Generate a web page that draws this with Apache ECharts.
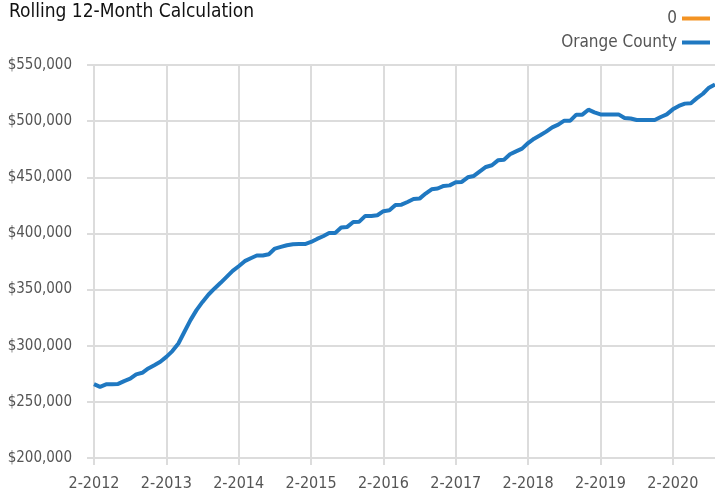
<!DOCTYPE html>
<html>
<head>
<meta charset="utf-8">
<script src="https://cdn.jsdelivr.net/npm/echarts@6/dist/echarts.min.js"></script>
<style>
  html, body { margin: 0; padding: 0; background: #fff; }
  #chart { width: 715px; height: 493px; }
</style>
</head>
<body>
<div id="chart"></div>
<script>
// months 2-2012 .. 9-2020
const months = [];
for (let y = 2012; y <= 2020; y++) {
  for (let m = 1; m <= 12; m++) {
    if (y === 2012 && m < 2) continue;
    if (y === 2020 && m > 9) continue;
    months.push(m + "-" + y);
  }
}

// rolling 12-month value, Orange County (thousands of $)
const orangeCounty = [
  265.8, 263.4, 265.6, 265.6, 266.0, 268.5, 270.6, 274.5, 275.9, 279.8, 282.7, 285.7,
  290.1, 295.2, 302.0, 312.4, 322.8, 331.7, 339.0, 345.6, 351.0, 356.0, 361.3, 366.6,
  370.8, 375.3, 377.9, 380.3, 380.3, 381.5, 386.5, 388.0, 389.5, 390.4, 390.5, 390.5,
  392.4, 395.1, 397.5, 400.4, 400.4, 405.2, 405.8, 410.2, 410.5, 415.6, 415.6, 416.2,
  419.8, 420.6, 425.4, 425.6, 428.0, 430.7, 431.0, 435.5, 439.3, 440.0, 442.3, 442.8,
  445.6, 445.9, 450.0, 451.2, 455.3, 459.2, 460.7, 465.1, 465.7, 470.5, 473.1, 475.5,
  480.5, 484.4, 487.4, 490.7, 494.5, 496.9, 500.4, 500.4, 505.8, 505.8, 510.2, 507.8,
  506.0, 506.0, 506.0, 506.0, 502.8, 502.3, 501.0, 501.0, 501.0, 501.0, 503.7, 506.0,
  510.5, 513.5, 515.6, 516.0, 520.5, 524.4, 529.8, 532.7
];
const zeroSeries = [];

const gridColor = "#dcdcdc";
const textColor = "#555";
const font = "'Liberation Sans Narrow', 'DejaVu Sans Condensed', Roboto, sans-serif";

const chart = echarts.init(document.getElementById("chart"));
chart.setOption({
  backgroundColor: "#fff",
  animation: false,
  title: {
    text: "Rolling 12-Month Calculation",
    left: 4,
    top: -2,
    textStyle: { fontFamily: font, fontSize: 19, fontWeight: "normal", color: "#111" }
  },
  legend: {
    orient: "vertical",
    right: 0,
    top: 5,
    align: "right",
    itemGap: 7,
    itemWidth: 28,
    itemHeight: 4,
    icon: "rect",
    textStyle: { fontFamily: font, fontSize: 17, color: textColor },
    data: ["0", "Orange County"]
  },
  grid: { left: 94, right: -2, top: 65, bottom: 35 },
  xAxis: {
    type: "category",
    boundaryGap: false,
    data: months,
    axisLine: { lineStyle: { color: gridColor, width: 2 } },
    axisTick: { interval: 11, length: 7, lineStyle: { color: gridColor, width: 2 } },
    axisLabel: { interval: 11, margin: 18, fontFamily: font, fontSize: 16, color: textColor },
    splitLine: { show: true, interval: 11, lineStyle: { color: gridColor, width: 2 } }
  },
  yAxis: {
    type: "value",
    min: 200,
    max: 550,
    interval: 50,
    axisLine: { show: false },
    axisTick: { show: true, length: 7, lineStyle: { color: gridColor, width: 2 } },
    axisLabel: {
      margin: 22,
      fontFamily: font,
      fontSize: 15,
      color: textColor,
      formatter: v => "$" + (v * 1000).toLocaleString("en-US")
    },
    splitLine: { lineStyle: { color: gridColor, width: 2 } }
  },
  series: [
    {
      name: "0",
      type: "line",
      data: zeroSeries,
      itemStyle: { color: "#f39323" },
      lineStyle: { width: 4 }
    },
    {
      name: "Orange County",
      type: "line",
      data: orangeCounty,
      showSymbol: false,
      symbol: "none",
      itemStyle: { color: "#1f78c1" },
      lineStyle: { width: 4, color: "#1f78c1" }
    }
  ]
});
</script>
</body>
</html>
